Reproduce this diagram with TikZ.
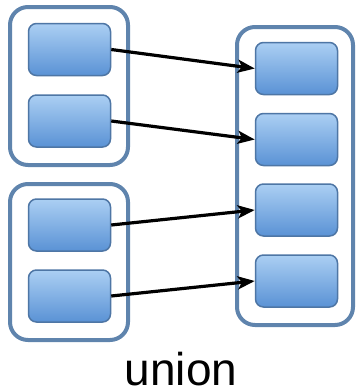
\documentclass[tikz,border=0pt]{standalone}
\usepackage{fontspec}
\setmainfont{Liberation Sans}
\usetikzlibrary{arrows.meta}
\definecolor{boxtop}{HTML}{ABCFF3}
\definecolor{boxbot}{HTML}{5A92D5}
\definecolor{boxline}{HTML}{4E76A5}
\definecolor{setline}{HTML}{5F84AD}
\tikzset{
  elem/.style={draw=boxline, line width=1.5pt, rounded corners=8pt, top color=boxtop, bottom color=boxbot, minimum width=82pt, minimum height=52pt, inner sep=0pt},
  setbox/.style={draw=setline, line width=4pt, rounded corners=18pt, fill=white, inner sep=0pt},
  link/.style={-{Stealth[length=17pt,width=13pt,inset=4pt]}, line width=3.2pt}
}
\begin{document}
\begin{tikzpicture}[x=1pt,y=-1pt]
	\useasboundingbox (0,0) rectangle (357,392);
	% the three sets
	\node[setbox, minimum width=118pt, minimum height=158pt] (setA) at (69,86) {};
	\node[setbox, minimum width=118pt, minimum height=156pt] (setB) at (69,262) {};
	\node[setbox, minimum width=116pt, minimum height=298pt] (setU) at (295,176) {};
	
	\foreach \n/\y in {1/49.5, 2/121, 3/225, 4/296}
		\node[elem] (a\n) at (69.5,\y) {};
	\foreach \n/\y in {1/68.5, 2/139.5, 3/210, 4/281}
		\node[elem] (b\n) at (296.5,\y) {};
	\foreach \n in {1,...,4}
		\draw[link] (a\n.east) -- (b\n.west);
	
	\node[anchor=base, inner sep=0pt] (lbl) at (181,385) {\fontsize{46}{46}\selectfont union};
\end{tikzpicture}
\end{document}
